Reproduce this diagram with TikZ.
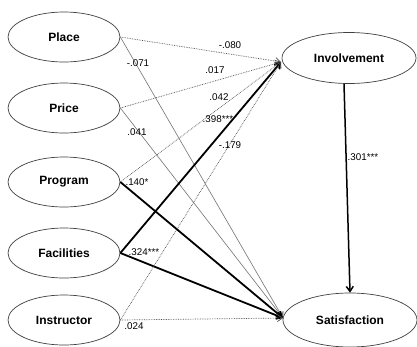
\documentclass[tikz,border=0pt]{standalone}
\usepackage{fontspec}
\setmainfont{Liberation Sans}
\usetikzlibrary{shapes.geometric,arrows.meta}
\begin{document}
\begin{tikzpicture}[x=1pt,y=-1pt,
  var/.style={ellipse,draw=black!75,line width=0.7pt,fill=white,font=\fontsize{12}{14}\selectfont\bfseries,inner sep=0pt},
  lvar/.style={var,minimum width=112pt,minimum height=50pt},
  rvar/.style={var,minimum width=134pt,minimum height=51pt},
  tip/.style={-{Straight Barb[length=5pt,width=7pt]}},
  dotline/.style={tip,densely dotted,draw=black!70,line width=0.7pt},
  thinline/.style={tip,draw=black!55,line width=0.6pt},
  thick line/.style={tip,draw=black,line width=1.8pt},
  coef/.style={font=\fontsize{9.8}{11}\selectfont,inner sep=0pt}]
\useasboundingbox (0,0) rectangle (417,346);
\fill[white] (0,0) rectangle (417,346);
\node[lvar] (place) at (64,37) {Place};
\node[lvar] (price) at (64,108) {Price};
\node[lvar] (program) at (64,182) {Program};
\node[lvar] (facil) at (64,253) {Facilities};
\node[lvar] (instr) at (64,320) {Instructor};
\node[rvar] (inv) at (349,58) {Involvement};
\node[rvar,minimum height=54pt] (sat) at (350,320) {Satisfaction};
\coordinate (iin) at (281,62);
\coordinate (sin) at (283,318);
\draw[dotline] (place.east) -- (iin);
\draw[thinline] (place.east) -- (sin);
\draw[dotline] (price.east) -- (iin);
\draw[thinline] (price.east) -- (sin);
\draw[dotline] (program.east) -- (iin);
\draw[thick line] (program.east) -- (sin);
\draw[thick line] (facil.east) -- (iin);
\draw[thick line] (facil.east) -- (sin);
\draw[dotline] (instr.east) -- (iin);
\draw[dotline] (instr.east) -- (sin);
\draw[thick line,line width=1.5pt] (inv.south) ++(-5,0) coordinate (ib) (ib) -- (sat.north);
\node[coef] (c1) at (230,45) {-.080};
\node[coef] (c2) at (215,70) {.017};
\node[coef] (c3) at (219,97) {.042};
\node[coef] (c4) at (218,119) {.398***};
\node[coef] (c5) at (230,145) {-.179};
\node[coef] (c6) at (363,157) {.301***};
\node[coef] (c7) at (138,63) {-.071};
\node[coef] (c8) at (137,132) {.041};
\node[coef] (c9) at (137,182) {.140*};
\node[coef] (c10) at (144,252) {.324***};
\node[coef] (c11) at (134,326) {.024};
\end{tikzpicture}
\end{document}
